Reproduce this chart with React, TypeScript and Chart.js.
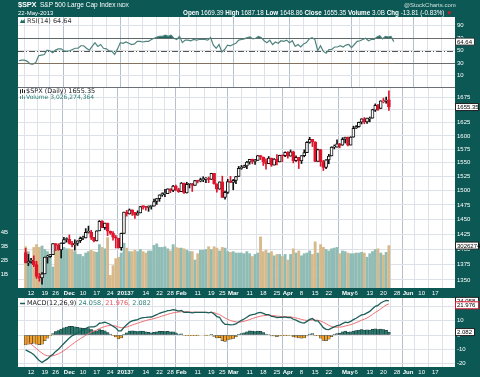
import React, { useEffect, useRef } from 'react';
import { Chart, registerables } from 'chart.js';
Chart.register(...registerables);

// ---------- DATA ----------
const dates: string[] = [
  '2012-11-08','2012-11-09','2012-11-12','2012-11-13','2012-11-14','2012-11-15','2012-11-16','2012-11-19','2012-11-20','2012-11-21','2012-11-23','2012-11-26','2012-11-27','2012-11-28','2012-11-29','2012-11-30',
  '2012-12-03','2012-12-04','2012-12-05','2012-12-06','2012-12-07','2012-12-10','2012-12-11','2012-12-12','2012-12-13','2012-12-14','2012-12-17','2012-12-18','2012-12-19','2012-12-20','2012-12-21','2012-12-24','2012-12-26','2012-12-27','2012-12-28','2012-12-31',
  '2013-01-02','2013-01-03','2013-01-04','2013-01-07','2013-01-08','2013-01-09','2013-01-10','2013-01-11','2013-01-14','2013-01-15','2013-01-16','2013-01-17','2013-01-18','2013-01-22','2013-01-23','2013-01-24','2013-01-25','2013-01-28','2013-01-29','2013-01-30','2013-01-31',
  '2013-02-01','2013-02-04','2013-02-05','2013-02-06','2013-02-07','2013-02-08','2013-02-11','2013-02-12','2013-02-13','2013-02-14','2013-02-15','2013-02-19','2013-02-20','2013-02-21','2013-02-22','2013-02-25','2013-02-26','2013-02-27','2013-02-28',
  '2013-03-01','2013-03-04','2013-03-05','2013-03-06','2013-03-07','2013-03-08','2013-03-11','2013-03-12','2013-03-13','2013-03-14','2013-03-15','2013-03-18','2013-03-19','2013-03-20','2013-03-21','2013-03-22','2013-03-25','2013-03-26','2013-03-27','2013-03-28',
  '2013-04-01','2013-04-02','2013-04-03','2013-04-04','2013-04-05','2013-04-08','2013-04-09','2013-04-10','2013-04-11','2013-04-12','2013-04-15','2013-04-16','2013-04-17','2013-04-18','2013-04-19','2013-04-22','2013-04-23','2013-04-24','2013-04-25','2013-04-26','2013-04-29','2013-04-30',
  '2013-05-01','2013-05-02','2013-05-03','2013-05-06','2013-05-07','2013-05-08','2013-05-09','2013-05-10','2013-05-13','2013-05-14','2013-05-15','2013-05-16','2013-05-17','2013-05-20','2013-05-21','2013-05-22',
];
// upcoming sessions shown as empty space on the right
const futureDates: string[] = [
  '2013-05-23','2013-05-24','2013-05-28','2013-05-29','2013-05-30','2013-05-31','2013-06-03','2013-06-04','2013-06-05','2013-06-06','2013-06-07',
  '2013-06-10','2013-06-11','2013-06-12','2013-06-13','2013-06-14','2013-06-17','2013-06-18','2013-06-19','2013-06-20','2013-06-21',
];

const open: number[] = [
  1394.53,1377.55,1379.86,1380.03,1374.64,1355.41,1353.36,1359.88,1386.82,1387.79,1391.03,1409.15,1406.29,1398.77,1409.96,1415.95,
  1416.34,1409.46,1407.05,1409.43,1413.95,1418.07,1418.55,1427.84,1428.48,1419.45,1413.54,1430.47,1446.79,1435.81,1443.67,1430.15,1426.66,1419.83,1418.10,1402.43,
  1426.19,1462.42,1459.37,1466.47,1461.89,1457.15,1461.02,1472.12,1472.05,1470.67,1472.33,1472.63,1480.95,1485.98,1492.56,1494.81,1494.82,1502.96,1500.18,1507.84,1501.96,
  1498.11,1513.17,1495.71,1511.29,1512.12,1509.39,1517.93,1517.01,1519.43,1520.33,1521.38,1519.79,1530.94,1511.95,1502.42,1515.60,1487.85,1496.94,1515.99,
  1514.68,1518.20,1525.20,1539.79,1541.46,1544.26,1551.15,1556.22,1552.48,1554.52,1563.21,1560.70,1552.10,1548.34,1558.71,1545.90,1556.89,1551.69,1563.75,1562.86,
  1569.18,1562.17,1570.25,1553.69,1559.98,1553.26,1563.11,1568.61,1587.73,1593.30,1588.84,1552.36,1574.57,1552.03,1541.61,1555.25,1562.50,1578.78,1578.78,1585.16,1582.34,1593.58,
  1597.55,1582.77,1597.60,1614.40,1617.55,1625.95,1632.69,1626.69,1632.10,1633.75,1649.13,1658.07,1652.45,1665.71,1666.20,1669.39,
];
const high: number[] = [
  1401.23,1391.39,1384.87,1388.81,1380.13,1360.62,1362.03,1386.89,1389.77,1391.25,1409.16,1409.15,1409.01,1410.31,1419.70,1418.86,
  1423.73,1413.14,1415.56,1413.95,1420.34,1421.64,1434.27,1438.59,1431.36,1419.45,1430.67,1448.00,1447.75,1443.70,1443.67,1430.15,1429.42,1422.80,1418.10,1426.74,
  1462.43,1465.47,1467.94,1466.47,1461.89,1464.73,1472.30,1472.75,1472.05,1473.31,1473.96,1485.16,1485.98,1492.56,1496.13,1502.27,1503.26,1503.23,1509.35,1509.94,1504.19,
  1514.41,1513.17,1514.96,1512.53,1512.90,1518.31,1518.31,1522.29,1524.69,1523.14,1524.24,1530.94,1530.94,1511.95,1515.64,1525.84,1498.99,1520.08,1525.34,
  1519.99,1525.27,1543.47,1545.25,1545.78,1552.48,1556.27,1556.77,1556.39,1563.32,1563.62,1560.70,1557.25,1561.56,1558.71,1557.74,1564.91,1563.95,1564.07,1570.28,
  1570.57,1573.66,1571.47,1562.60,1559.98,1563.07,1573.89,1589.07,1597.35,1593.30,1588.84,1575.35,1574.57,1554.38,1555.89,1565.55,1579.58,1583.00,1592.64,1585.78,1596.65,1597.57,
  1597.55,1598.60,1618.46,1619.77,1626.03,1632.78,1635.01,1633.70,1636.00,1651.10,1661.49,1660.51,1667.47,1672.84,1674.93,1687.18,
];
const low: number[] = [
  1377.51,1373.03,1377.19,1371.39,1352.50,1348.05,1343.35,1359.88,1377.04,1386.39,1391.03,1397.68,1398.03,1385.43,1409.04,1411.63,
  1408.46,1403.65,1398.23,1405.93,1410.90,1415.64,1418.55,1426.76,1416.00,1411.88,1413.54,1430.47,1435.80,1432.82,1422.58,1424.66,1414.75,1401.80,1401.58,1398.11,
  1426.19,1455.53,1458.99,1456.62,1451.64,1457.15,1461.02,1467.58,1465.69,1463.76,1467.60,1472.63,1475.81,1481.16,1489.90,1489.46,1494.82,1496.33,1498.09,1500.11,1496.76,
  1498.11,1495.02,1495.71,1504.71,1498.49,1509.39,1513.61,1515.61,1515.93,1514.02,1514.14,1519.79,1511.41,1497.29,1502.42,1487.85,1485.01,1494.88,1514.46,
  1501.48,1512.29,1525.20,1538.11,1541.46,1539.37,1547.36,1548.24,1547.25,1554.52,1555.74,1545.13,1538.57,1548.34,1543.55,1545.90,1546.22,1551.69,1551.90,1561.08,
  1558.47,1562.17,1549.80,1552.52,1539.50,1548.63,1560.92,1568.61,1586.17,1579.97,1552.28,1552.36,1543.69,1536.03,1539.40,1548.19,1562.50,1575.80,1578.78,1577.56,1582.34,1586.50,
  1581.28,1582.77,1597.60,1614.21,1616.64,1622.70,1623.09,1623.71,1626.74,1633.75,1646.68,1648.60,1652.45,1663.52,1662.67,1648.86,
];
const close: number[] = [
  1377.51,1379.85,1380.03,1374.53,1355.49,1353.33,1359.88,1386.89,1387.81,1391.03,1409.15,1406.29,1398.94,1409.93,1415.95,1416.18,
  1409.46,1407.05,1409.28,1413.94,1418.07,1418.55,1427.84,1428.48,1419.45,1413.58,1430.36,1446.79,1435.81,1443.69,1430.15,1426.66,1419.83,1418.10,1402.43,1426.19,
  1462.42,1459.37,1466.47,1461.89,1457.15,1461.02,1472.12,1472.05,1470.68,1472.34,1472.63,1480.94,1485.98,1492.56,1494.81,1494.82,1502.96,1500.18,1507.84,1501.96,1498.11,
  1513.17,1495.71,1511.29,1512.12,1509.39,1517.93,1517.01,1519.43,1520.33,1521.38,1519.79,1530.94,1511.95,1502.42,1515.60,1487.85,1496.94,1515.99,1514.68,
  1518.20,1525.20,1539.79,1541.46,1544.26,1551.18,1556.22,1552.48,1554.52,1563.23,1560.70,1552.10,1548.34,1558.71,1545.80,1556.89,1551.69,1563.77,1562.85,1569.19,
  1562.17,1570.25,1553.69,1559.98,1553.28,1563.07,1568.61,1587.73,1593.37,1588.85,1552.36,1574.57,1552.01,1541.61,1555.25,1562.50,1578.78,1578.79,1585.16,1582.24,1593.61,1597.57,
  1582.70,1597.59,1614.42,1617.50,1625.96,1632.69,1626.67,1633.70,1633.77,1650.34,1658.78,1650.47,1667.47,1666.29,1669.16,1655.35,
];
// volume, billions of shares
const volume: number[] = [
  2.95,2.6,2.1,2.9,3.1,2.9,3.0,2.75,2.6,2.4,1.5,2.7,2.8,2.9,2.9,2.8,
  2.8,2.75,2.6,2.4,2.4,2.25,2.5,2.6,2.7,2.6,2.55,3.1,2.9,2.8,3.6,0.9,1.6,2.1,2.2,2.5,
  3.2,2.85,2.6,2.6,2.7,2.6,2.75,2.6,2.5,2.65,2.65,3.05,3.15,2.9,2.9,2.95,2.8,2.65,3.1,2.9,2.85,
  2.85,2.8,2.7,2.6,2.6,2.0,2.45,2.7,2.7,2.75,2.95,2.75,2.95,2.85,2.65,2.9,2.85,2.6,2.55,
  2.6,2.5,2.5,2.5,2.45,2.6,2.45,2.25,2.4,2.5,3.65,2.6,2.7,2.5,2.6,2.3,2.4,2.4,2.25,2.4,
  2.0,2.4,2.8,2.5,2.65,2.3,2.45,2.5,2.65,2.4,3.3,2.5,3.1,2.9,2.75,2.65,2.8,2.85,2.9,2.45,2.65,2.6,
  2.5,2.45,2.45,2.5,2.5,2.55,2.5,2.2,2.45,2.6,2.75,2.8,2.5,2.35,2.55,3.03,
];
const rsi: number[] = [
  34,35,35,33,29,28.5,31,42,43,44,51,50,47,51,53,53,
  50,49,50,52,54,54,58,58,54,51,57,63,57,60,54,53,50,49,44,53,
  63,62,64,62,60,61,65,65,64,65,65,68,70,72,73,73,75,73,75,70,68,
  73,63,67,67,66,68,67,68,68,68,67,71,59,54,60,48,52,59,58,
  60,62,67,68,69,71,72,69,70,73,71,66,63,67,60,64,62,66,65,67,
  63,66,57,60,56,61,63,69,71,68,50,58,49,46,52,52,56,56,58,56,59,60,
  55,60,65,66,68,70,66,68,68,72,74,69,73,72,73,64.64,
];
const macd: number[] = [
  -10.5,-11.5,-12.5,-13.8,-16.0,-18.0,-19.3,-18.0,-16.8,-15.0,-13.5,-11.5,-10.0,-8.0,-6.0,-4.0,
  -2.0,-0.5,0.5,1.5,2.5,3.3,4.5,5.5,5.8,5.7,6.5,8.3,8.6,9.0,8.3,7.4,6.2,5.0,2.9,3.0,
  5.4,7.2,9.0,10.0,10.4,10.8,11.8,12.3,12.4,12.6,12.7,13.5,14.3,15.3,16.0,16.4,17.2,17.3,17.8,17.5,16.8,
  17.3,16.0,16.1,16.0,15.6,15.9,15.9,16.0,16.0,15.9,15.6,16.1,14.8,13.0,12.5,9.3,7.5,7.5,7.2,
  7.3,7.8,9.2,10.3,11.3,12.5,13.8,14.3,14.7,15.6,15.9,15.3,14.4,14.3,13.1,12.9,12.2,12.4,12.4,12.8,
  12.3,12.4,11.1,10.5,9.4,8.8,8.4,9.6,11.0,11.6,10.0,10.0,7.7,5.2,4.0,3.8,4.9,5.7,6.6,7.0,8.0,9.0,
  8.8,9.6,10.8,11.8,13.0,14.2,14.6,15.6,16.6,18.5,20.2,20.8,22.6,23.6,24.4,24.058,
];
const signal: number[] = [
  -3.5,-5.0,-6.5,-8.0,-9.6,-11.3,-12.8,-14.0,-14.6,-14.8,-14.6,-14.0,-13.2,-12.2,-11.0,-9.6,
  -8.1,-6.6,-5.2,-3.9,-2.6,-1.4,-0.2,1.0,2.0,2.7,3.5,4.5,5.3,6.0,6.5,6.7,6.6,6.3,5.6,5.1,
  5.2,5.6,6.3,7.0,7.7,8.3,9.0,9.6,10.2,10.7,11.1,11.6,12.1,12.7,13.4,13.9,14.6,15.1,15.6,16.0,16.2,
  16.4,16.3,16.3,16.2,16.1,16.1,16.0,16.0,16.0,16.0,15.9,15.9,15.7,15.0,14.4,13.2,12.0,11.0,10.2,
  9.6,9.2,9.0,9.3,9.7,10.2,10.9,11.6,12.2,12.8,13.3,13.6,13.8,13.9,13.8,13.6,13.3,13.1,12.9,12.9,
  12.8,12.7,12.4,12.0,11.5,11.0,10.5,10.3,10.4,10.6,10.5,10.4,9.9,9.0,8.0,6.8,6.0,5.6,5.5,5.6,5.8,6.3,
  6.8,7.3,8.0,8.7,9.5,10.4,11.2,12.0,13.2,14.5,15.9,17.0,18.4,19.8,21.1,21.976,
];
const histogram: number[] = [
  -7.0,-6.5,-6.0,-5.8,-6.4,-6.7,-6.5,-4.0,-2.2,-0.2,1.1,2.5,3.2,4.2,5.0,5.6,
  6.1,6.1,5.7,5.4,5.1,4.7,4.7,4.5,3.8,3.0,3.0,3.8,3.3,3.0,1.8,0.7,-0.4,-1.3,-2.7,-2.1,
  0.2,1.6,2.7,3.0,2.7,2.5,2.8,2.7,2.2,1.9,1.6,1.9,2.2,2.6,2.6,2.5,2.6,2.2,2.2,1.5,0.6,
  0.9,-0.3,-0.2,-0.2,-0.5,-0.2,-0.1,0,0,-0.1,-0.3,0.2,-0.9,-2.0,-1.9,-3.9,-4.5,-3.5,-3.0,
  -2.3,-1.4,0.2,1.0,1.6,2.3,2.9,2.7,2.5,2.8,2.6,1.7,0.6,0.4,-0.7,-0.7,-1.1,-0.7,-0.5,-0.1,
  -0.5,-0.3,-1.3,-1.5,-2.1,-2.2,-2.1,-0.7,0.6,1.0,-0.5,-0.4,-2.2,-3.8,-4.0,-3.0,-1.1,0.1,1.1,1.4,2.2,2.7,
  2.0,2.3,2.8,3.1,3.5,3.8,3.4,3.6,3.4,4.0,4.3,3.8,4.2,3.8,3.3,2.082,
];

const tickDates: string[] = [
  '2012-11-12','2012-11-19','2012-11-26','2012-12-03','2012-12-10','2012-12-17','2012-12-24','2013-01-02','2013-01-07','2013-01-14','2013-01-22','2013-01-28',
  '2013-02-01','2013-02-11','2013-02-19','2013-02-25','2013-03-01','2013-03-11','2013-03-18','2013-03-25','2013-04-01','2013-04-08','2013-04-15','2013-04-22',
  '2013-05-01','2013-05-06','2013-05-13','2013-05-20','2013-05-28','2013-06-03','2013-06-10','2013-06-17',
];
const tickLabels: string[] = [
  '12','19','26','Dec','10','17','24','2013','7','14','22','28',
  'Feb','11','19','25','Mar','11','18','25','Apr','8','15','22',
  'May','6','13','20','28','Jun','10','17',
];
const monthLabels: string[] = ['Dec','2013','Feb','Mar','Apr','May','Jun'];
const priceTicks: number[] = [1350,1375,1400,1425,1450,1475,1500,1525,1550,1575,1600,1625,1650,1675];
const volumeTicks: number[] = [1,2,3,4];
const rsiTicks: number[] = [10,30,50,70,90];
const macdTicks: number[] = [-20,-10,0,10,20];

// ---------- STYLE ----------
const TEAL = '#0b5855';
const RED = '#e0142c';
const VOL_UP = '#8fbcb4';
const VOL_DOWN = '#d8b98c';
const FONT = 'Liberation Sans';
const LFONT = 'DejaVu Sans';

const sessions = [...dates, ...futureDates];
const xs = dates.map((d) => sessions.indexOf(d));
const tickPos = tickDates.map((d) => sessions.indexOf(d));
const monthPos = new Set(tickLabels.map((l, i) => (monthLabels.includes(l) ? tickPos[i] : -1)));
const X_MIN = -0.3;
const X_MAX = 154.7;

function xAxis(showLabels: boolean): any {
  return {
    type: 'linear',
    min: X_MIN,
    max: X_MAX,
    afterBuildTicks: (s: any) => {
      s.ticks = tickPos.map((v) => ({ value: v }));
    },
    afterFit: (s: any) => {
      s.height = showLabels ? 10 : 0;
    },
    border: { display: false },
    grid: {
      drawTicks: false,
      lineWidth: 1,
      color: (c: any) => (c.tick && monthPos.has(c.tick.value) ? '#b3bfca' : '#dce2e8'),
    },
    ticks: {
      display: showLabels,
      autoSkip: false,
      maxRotation: 0,
      padding: 2,
      color: '#ffffff',
      font: (c: any) => ({
        family: FONT,
        size: 6,
        weight: c.tick && monthPos.has(c.tick.value) ? 'bold' : 'normal',
      }),
      callback: (_v: any, i: number) => tickLabels[i],
    },
  };
}

function rightAxis(extra: any, ticks: number[], fmt: (v: number) => string): any {
  return {
    position: 'right',
    ...extra,
    afterBuildTicks: (s: any) => {
      s.ticks = ticks.map((v) => ({ value: v }));
    },
    afterFit: (s: any) => {
      s.width = 25;
    },
    border: { display: false },
    grid: { drawTicks: false, color: '#dce2e8', lineWidth: 1 },
    ticks: {
      color: '#ffffff',
      padding: 2,
      font: { family: FONT, size: 6 },
      callback: (v: any) => fmt(Number(v)),
    },
  };
}

const whitePlot = {
  id: 'whitePlot',
  beforeDraw(chart: any) {
    const { ctx, chartArea: a } = chart;
    ctx.save();
    ctx.fillStyle = '#ffffff';
    ctx.fillRect(a.left, a.top, a.right - a.left, a.bottom - a.top);
    ctx.restore();
  },
};

function valueBox(ctx: any, text: string, y: number, border: string, width = 24) {
  ctx.save();
  ctx.fillStyle = '#ffffff';
  ctx.fillRect(455, y - 3.5, width, 7);
  ctx.strokeStyle = border;
  ctx.lineWidth = 1;
  ctx.strokeRect(455.5, y - 3.5, width - 1, 7);
  ctx.fillStyle = '#000000';
  ctx.font = `6px ${FONT}`;
  ctx.textBaseline = 'middle';
  ctx.fillText(text, 457, y + 0.5);
  ctx.restore();
}

function drawParts(ctx: any, x: number, y: number, parts: [string, string][], font: string) {
  ctx.save();
  ctx.font = font;
  ctx.textBaseline = 'middle';
  let cx = x;
  for (const [t, c] of parts) {
    ctx.fillStyle = c;
    ctx.fillText(t, cx, y);
    cx += ctx.measureText(t).width;
  }
  ctx.restore();
}

// ---------- CHART CONFIGS ----------
function rsiConfig(): any {
  const pts = rsi.map((v, i) => ({ x: xs[i], y: v }));
  return {
    type: 'line',
    data: {
      datasets: [
        {
          data: pts,
          borderColor: '#4f837e',
          borderWidth: 1.2,
          pointRadius: 0,
          fill: { target: { value: 70 }, above: '#1f6a63', below: 'rgba(0,0,0,0)' },
          order: 1,
        },
        {
          data: pts,
          borderWidth: 0,
          borderColor: 'rgba(0,0,0,0)',
          pointRadius: 0,
          fill: { target: { value: 30 }, above: 'rgba(0,0,0,0)', below: '#e8921e' },
          order: 2,
        },
      ],
    },
    options: {
      responsive: false,
      animation: false,
      events: [],
      layout: { padding: { top: 17, bottom: 290, left: 18, right: 0 } },
      plugins: { legend: { display: false }, tooltip: { enabled: false } },
      scales: {
        x: xAxis(false),
        y: rightAxis({ min: -8, max: 104 }, rsiTicks, (v) => String(v)),
      },
    },
    plugins: [
      whitePlot,
      {
        id: 'rsiLines',
        beforeDatasetsDraw(chart: any) {
          const { ctx, chartArea: a, scales } = chart;
          const y = scales.y;
          ctx.save();
          ctx.lineWidth = 1;
          ctx.strokeStyle = '#6c6c6c';
          for (const v of [70, 30]) {
            const py = Math.round(y.getPixelForValue(v)) + 0.5;
            ctx.beginPath();
            ctx.moveTo(a.left, py);
            ctx.lineTo(a.right, py);
            ctx.stroke();
          }
          ctx.setLineDash([6, 2, 1, 2]);
          ctx.strokeStyle = '#555555';
          const p50 = Math.round(y.getPixelForValue(50)) + 0.5;
          ctx.beginPath();
          ctx.moveTo(a.left, p50);
          ctx.lineTo(a.right, p50);
          ctx.stroke();
          ctx.restore();
        },
        afterDraw(chart: any) {
          const { ctx, scales } = chart;
          ctx.save();
          ctx.fillStyle = '#1f6a63';
          ctx.beginPath();
          ctx.moveTo(20, 23);
          ctx.lineTo(21.5, 19.5);
          ctx.lineTo(23, 21);
          ctx.lineTo(24.5, 18.5);
          ctx.lineTo(25, 23);
          ctx.closePath();
          ctx.fill();
          ctx.restore();
          drawParts(ctx, 27, 21, [['RSI(14) 64.64', '#333333']], `6.5px ${LFONT}`);
          valueBox(ctx, '64.64', scales.y.getPixelForValue(rsi[rsi.length - 1]), '#333333', 20);
        },
      },
    ],
  };
}

function priceConfig(): any {
  const colors = close.map((c, i) => (c >= (i > 0 ? close[i - 1] : open[i]) ? '#111111' : RED));
  const volColors = close.map((c, i) => (c >= (i > 0 ? close[i - 1] : open[i]) ? VOL_UP : VOL_DOWN));
  return {
    type: 'bar',
    data: {
      datasets: [
        {
          type: 'bar',
          yAxisID: 'yVol',
          data: volume.map((v, i) => ({ x: xs[i], y: v })),
          backgroundColor: volColors,
          barThickness: 2.2,
          grouped: false,
          order: 3,
        },
        {
          type: 'bar',
          yAxisID: 'y',
          data: low.map((l, i) => ({ x: xs[i], y: [l, high[i]] })),
          backgroundColor: colors,
          barThickness: 1,
          grouped: false,
          order: 2,
        },
        {
          type: 'bar',
          yAxisID: 'y',
          data: open.map((o, i) => ({ x: xs[i], y: [o, close[i]] })),
          backgroundColor: close.map((c, i) => (c > open[i] ? '#ffffff' : colors[i])),
          borderColor: colors,
          borderWidth: 1,
          borderSkipped: false,
          barThickness: 3,
          minBarLength: 1,
          grouped: false,
          order: 1,
        },
      ],
    },
    options: {
      responsive: false,
      animation: false,
      events: [],
      layout: { padding: { top: 87, bottom: 79, left: 0, right: 0 } },
      plugins: { legend: { display: false }, tooltip: { enabled: false } },
      scales: {
        x: xAxis(true),
        y: rightAxis({ type: 'logarithmic', min: 1337.3, max: 1694.9 }, priceTicks, (v) => String(v)),
        yVol: {
          position: 'left',
          min: 0,
          max: 14.36,
          afterBuildTicks: (s: any) => {
            s.ticks = volumeTicks.map((v) => ({ value: v }));
          },
          afterFit: (s: any) => {
            s.width = 18;
          },
          border: { display: false },
          grid: { display: false },
          ticks: {
            color: '#ffffff',
            padding: 2,
            font: { family: FONT, size: 6 },
            callback: (v: any) => `${v}B`,
          },
        },
      },
    },
    plugins: [
      whitePlot,
      {
        id: 'priceDeco',
        afterDraw(chart: any) {
          const { ctx, chartArea: a, scales } = chart;
          ctx.save();
          ctx.strokeStyle = '#6a7075';
          ctx.lineWidth = 1;
          ctx.beginPath();
          ctx.moveTo(a.left, a.top + 0.5);
          ctx.lineTo(a.right, a.top + 0.5);
          ctx.stroke();
          ctx.fillStyle = '#222';
          ctx.fillRect(20, 89.5, 1, 4);
          ctx.fillRect(22, 89, 1, 4);
          ctx.fillRect(24, 90, 1, 3);
          ctx.fillStyle = '#5a9a92';
          ctx.fillRect(20, 96, 1, 3);
          ctx.fillRect(22, 95, 1, 4);
          ctx.fillRect(24, 96.5, 1, 2.5);
          ctx.restore();
          drawParts(ctx, 26, 91.5, [['$SPX (Daily) 1655.35', '#222222']], `6.5px ${LFONT}`);
          drawParts(ctx, 26, 97.5, [['Volume 3,026,274,364', '#2f8278']], `6px ${LFONT}`);
          valueBox(ctx, '1655.35', scales.y.getPixelForValue(close[close.length - 1]), '#222222');
          valueBox(ctx, '3026274364', scales.yVol.getPixelForValue(volume[volume.length - 1]), '#222222');
        },
      },
    ],
  };
}

function macdConfig(): any {
  return {
    type: 'bar',
    data: {
      datasets: [
        {
          type: 'line',
          data: macd.map((v, i) => ({ x: xs[i], y: v })),
          borderColor: '#1b5f58',
          borderWidth: 1.3,
          pointRadius: 0,
          order: 1,
        },
        {
          type: 'line',
          data: signal.map((v, i) => ({ x: xs[i], y: v })),
          borderColor: '#ef6f73',
          borderWidth: 1,
          pointRadius: 0,
          order: 2,
        },
        {
          type: 'bar',
          data: histogram.map((v, i) => ({ x: xs[i], y: v })),
          backgroundColor: histogram.map((v) => (v >= 0 ? '#2a7a70' : '#f2a12a')),
          borderColor: '#1c2a28',
          borderWidth: 0.5,
          borderSkipped: false,
          barThickness: 2.8,
          grouped: false,
          order: 3,
        },
      ],
    },
    options: {
      responsive: false,
      animation: false,
      events: [],
      layout: { padding: { top: 298, bottom: 0, left: 18, right: 0 } },
      plugins: { legend: { display: false }, tooltip: { enabled: false } },
      scales: {
        x: xAxis(true),
        y: rightAxis({ min: -22.5, max: 26.06 }, macdTicks, (v) => String(v)),
      },
    },
    plugins: [
      whitePlot,
      {
        id: 'macdDeco',
        afterDraw(chart: any) {
          const { ctx, scales } = chart;
          ctx.save();
          ctx.strokeStyle = '#1b5f58';
          ctx.lineWidth = 1.5;
          ctx.beginPath();
          ctx.moveTo(20, 303.5);
          ctx.lineTo(25, 303.5);
          ctx.stroke();
          ctx.restore();
          drawParts(
            ctx,
            27,
            303.5,
            [
              ['MACD(12,26,9) ', '#222222'],
              ['24.058, ', '#2f8278'],
              ['21.976, ', '#e8505a'],
              ['2.082', '#2f8278'],
            ],
            `6.5px ${LFONT}`,
          );
          const y = scales.y;
          valueBox(ctx, '24.058', y.getPixelForValue(macd[macd.length - 1]), '#222222');
          valueBox(ctx, '21.976', y.getPixelForValue(signal[signal.length - 1]) + 1.5, RED);
          valueBox(ctx, '2.082', y.getPixelForValue(histogram[histogram.length - 1]), '#222222', 20);
        },
      },
    ],
  };
}

// ---------- COMPONENT ----------
export default function App() {
  const rsiRef = useRef<HTMLCanvasElement>(null);
  const priceRef = useRef<HTMLCanvasElement>(null);
  const macdRef = useRef<HTMLCanvasElement>(null);

  useEffect(() => {
    document.body.style.margin = '0';
    const charts = [
      new Chart(rsiRef.current as HTMLCanvasElement, rsiConfig()),
      new Chart(priceRef.current as HTMLCanvasElement, priceConfig()),
      new Chart(macdRef.current as HTMLCanvasElement, macdConfig()),
    ];
    return () => charts.forEach((c) => c.destroy());
  }, []);

  const canvasStyle: React.CSSProperties = { position: 'absolute', left: 0, top: 0, width: 480, height: 377 };
  const txt: React.CSSProperties = { position: 'absolute', color: '#ffffff', fontFamily: FONT, whiteSpace: 'nowrap', lineHeight: 1 };

  return (
    <div style={{ position: 'relative', width: 480, height: 377, background: TEAL, overflow: 'hidden' }}>
      <canvas ref={rsiRef} width={480} height={377} style={canvasStyle} />
      <canvas ref={priceRef} width={480} height={377} style={canvasStyle} />
      <canvas ref={macdRef} width={480} height={377} style={canvasStyle} />
      <div style={{ ...txt, left: 18, top: 1, fontSize: 7.5, fontWeight: 'bold', letterSpacing: -0.2 }}>$SPX</div>
      <div style={{ ...txt, left: 40, top: 2, fontSize: 6.5 }}>S&amp;P 500 Large Cap Index</div>
      <div style={{ ...txt, left: 117, top: 3, fontSize: 5 }}>INDX</div>
      <div style={{ ...txt, left: 18, top: 10, fontSize: 6 }}>22-May-2013</div>
      <div style={{ ...txt, left: 183, top: 10, fontSize: 6.3 }}>
        <b>Open</b> 1669.39 <b>High</b> 1687.18 <b>Low</b> 1648.86 <b>Close</b> 1655.35 <b>Volume</b> 3.0B{' '}
        <b>Chg</b> -13.81 (-0.83%) <span style={{ color: '#e0142c' }}>▼</span>
      </div>
      <div style={{ ...txt, left: 404, top: 2, fontSize: 6, color: '#cfe0de' }}>@StockCharts.com</div>
    </div>
  );
}
